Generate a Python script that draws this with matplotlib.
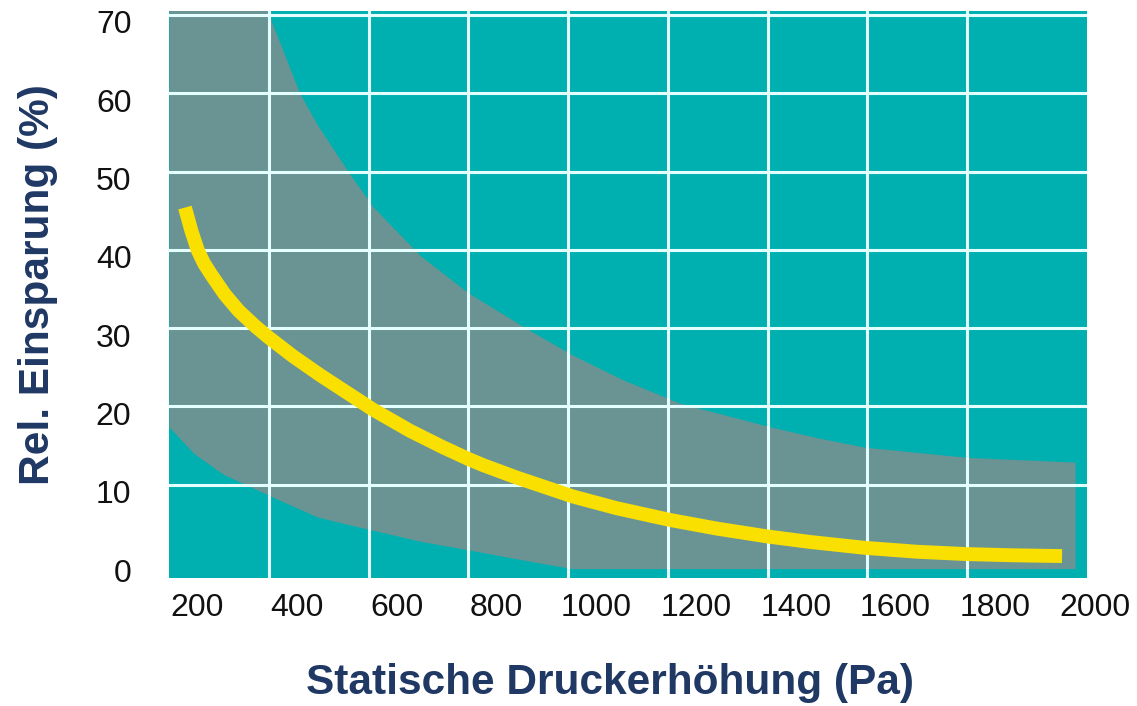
import matplotlib.pyplot as plt
import matplotlib.transforms as mtransforms

# yellow curve: relative saving vs static pressure rise
druck = [232, 245, 258, 270, 285, 312, 340, 372, 398, 449, 503, 556, 609, 683, 749, 800, 830, 898,
         1010, 1098, 1205, 1299, 1400, 1485, 1595, 1700, 1800, 1892, 1990]
einsparung = [45.4, 42.4, 39.9, 38.3, 36.8, 34.3, 32.2, 30.3, 28.9, 26.4, 24.0, 21.8, 19.6, 16.9, 14.8, 13.3, 12.5, 10.9,
              8.5, 7.0, 5.5, 4.4, 3.4, 2.7, 1.95, 1.45, 1.15, 1.0, 0.9]

# grey band (range of savings)
band_x = [200, 250, 310, 396, 402, 462, 497, 562, 609, 703, 800, 918, 1008, 1110, 1225, 1405, 1500, 1595, 1800, 2016]
band_upper = [71, 71, 71, 71, 69.7, 60.0, 56.0, 49.7, 45.5, 39.3, 34.5, 29.9, 26.6, 23.4, 20.4, 17.4, 16.0, 14.8, 13.5, 12.9]
band_lower = [17.4, 14.0, 11.3, 8.8, 8.6, 6.9, 5.9, 4.9, 4.2, 2.8, 1.7, 0.3, -0.7, -0.7, -0.7, -0.7, -0.7, -0.7, -0.7, -0.7]

x_ticks = [200, 400, 600, 800, 1000, 1200, 1400, 1600, 1800, 2000]
y_ticks = [0, 10, 20, 30, 40, 50, 60, 70]

teal = '#00B0B0'
grey = '#6A9494'
yellow = '#FAE000'
grid_col = '#E4FFFF'
navy = '#1F3864'

plt.rcParams['font.family'] = ['Liberation Sans', 'DejaVu Sans']

fig = plt.figure(figsize=(11.37, 7.06), dpi=100)
ax = fig.add_axes([169 / 1137, 1 - 578 / 706, 918 / 1137, 567 / 706])
ax.set_facecolor(teal)

ax.fill_between(band_x, band_lower, band_upper, color=grey, linewidth=0, zorder=1)
ax.plot(druck, einsparung, color=yellow, linewidth=10, solid_capstyle='butt',
        solid_joinstyle='round', zorder=3)

ax.set_xlim(200, 2040)
ax.set_ylim(-1.9, 70.5)
ax.set_xticks(x_ticks)
ax.set_yticks(y_ticks)
ax.set_axisbelow('line')
ax.grid(True, color=grid_col, linewidth=2.2)
# no gridline on the outer ticks
ax.xaxis.get_gridlines()[0].set_visible(False)
ax.xaxis.get_gridlines()[-1].set_visible(False)
ax.yaxis.get_gridlines()[0].set_visible(False)

for s in ax.spines.values():
    s.set_visible(False)

ax.tick_params(axis='both', length=0, labelsize=23, labelcolor='#111111')
ax.tick_params(axis='x', pad=11)
ax.tick_params(axis='y', pad=27)

# tick labels sit a bit off the gridlines in the original
dx = mtransforms.ScaledTranslation(0.28, 0, fig.dpi_scale_trans)
for lbl in ax.get_xticklabels():
    lbl.set_transform(lbl.get_transform() + dx)
dy = mtransforms.ScaledTranslation(0, -0.07, fig.dpi_scale_trans)
for lbl in ax.get_yticklabels():
    lbl.set_transform(lbl.get_transform() + dy)

fig.text(610 / 1137, 1 - 683 / 706, 'Statische Druckerhöhung (Pa)', ha='center', va='center',
         fontsize=30.5, fontweight='bold', color=navy)
fig.text(38 / 1137, 1 - 285 / 706, 'Rel. Einsparung (%)', ha='center', va='center', rotation=90,
         fontsize=30.5, fontweight='bold', color=navy)

fig.savefig('out.png', dpi=100, facecolor='white')
